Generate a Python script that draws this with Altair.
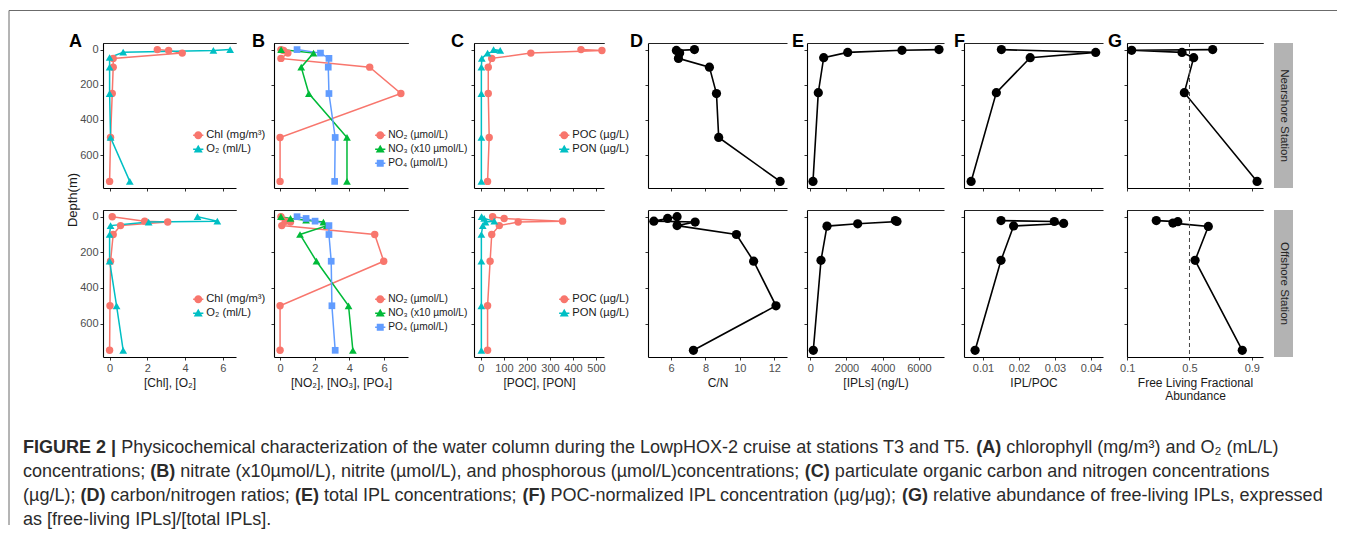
import altair as alt
import pandas as pd

FONT = "Liberation Sans"

# ---------------- data ----------------
near_depth = [0, 5, 20, 50, 100, 250, 500, 750]
off_depth = [0, 25, 30, 50, 100, 250, 500, 750]

# (A) chlorophyll and O2
chl_near = [2.53, 3.13, 3.85, 0.19, 0.19, 0.14, 0.05, 0.0]
o2_near_depth = [0, 5, 15, 45, 100, 250, 500, 750]
o2_near = [6.39, 5.50, 0.72, 0.0, 0.0, 0.0, 0.05, 1.07]
chl_off = [0.14, 1.86, 3.08, 0.58, 0.19, 0.05, 0.02, 0.0]
o2_off = [4.66, 5.71, 2.07, 0.05, 0.0, 0.0, 0.37, 0.72]

# (B) nutrients
no2_near = [0.05, 0.2, 0.45, 0.05, 5.17, 6.97, 0.0, 0.0]
no3_near_depth = [0, 20, 100, 250, 500, 750]
no3_near = [0.06, 1.93, 1.22, 1.66, 3.86, 3.86]
po4_near_depth = [0, 20, 50, 100, 250, 500, 750]
po4_near = [0.98, 2.33, 2.82, 2.78, 2.82, 3.18, 3.15]
no2_off = [0.05, 0.3, 0.6, 0.1, 5.46, 5.98, 0.0, 0.0]
no3_off_depth = [0, 10, 20, 30, 50, 100, 250, 500, 750]
no3_off = [0.05, 0.6, 1.5, 2.5, 2.7, 1.15, 2.1, 3.95, 4.2]
po4_off_depth = [0, 10, 25, 50, 100, 250, 500, 750]
po4_off = [0.98, 1.5, 2.02, 2.82, 2.82, 2.95, 2.99, 3.18]

# (C) POC / PON
poc_near = [435, 526, 217, 47, 32, 32, 36, 29]
pon_near = [55, 84, 29, 4, 2, 2, 2, 2]
poc_off_depth = [0, 10, 25, 30, 50, 100, 250, 500, 750]
poc_off = [51, 101, 355, 162, 80, 47, 40, 29, 29]
pon_off = [3, 14, 58, 20, 8, 2, 2, 2, 2]

# (D) C/N
cn_near = [7.36, 6.31, 6.5, 6.43, 8.23, 8.64, 8.77, 12.34]
cn_off_depth = [0, 10, 25, 30, 50, 100, 250, 500, 750]
cn_off = [6.35, 5.8, 5.0, 7.4, 6.35, 9.8, 10.8, 12.1, 7.3]

# (E) IPLs
ipl_near_depth = [0, 4, 16, 46, 245, 750]
ipl_near = [7110, 5066, 2066, 740, 442, 149]
ipl_off_depth = [22, 27, 40, 53, 245, 750]
ipl_off = [4700, 4790, 2618, 923, 591, 166]

# (F) IPL/POC
iplpoc_near_depth = [0, 16, 46, 245, 750]
iplpoc_near = [0.0151, 0.0413, 0.0231, 0.0137, 0.0067]
iplpoc_off_depth = [22, 27, 38, 52, 245, 750]
iplpoc_off = [0.0150, 0.0298, 0.0324, 0.0185, 0.0150, 0.0078]

# (G) free-living fraction
fl_near_depth = [0, 4, 16, 46, 245, 750]
fl_near = [0.649, 0.129, 0.452, 0.527, 0.467, 0.934]
fl_off_depth = [22, 28, 36, 55, 245, 750]
fl_off = [0.287, 0.425, 0.394, 0.621, 0.536, 0.839]
g_reference = [0.5]

# ---------------- labels / ticks ----------------
depth_ticks = [0, 200, 400, 600]
a_ticks = [0, 2, 4, 6]
b_ticks = [0, 2, 4, 6]
c_ticks = [0, 100, 200, 300, 400, 500]
d_ticks = [6, 8, 10, 12]
e_ticks = [0, 2000, 4000, 6000]
f_ticks = [0.01, 0.02, 0.03, 0.04]
g_ticks = [0.1, 0.5, 0.9]

a_names = ["Chl (mg/m³)", "O₂ (ml/L)"]
b_names = ["NO₂ (µmol/L)", "NO₃ (x10 µmol/L)", "PO₄ (µmol/L)"]
c_names = ["POC (µg/L)", "PON (µg/L)"]
station_labels = ["Nearshore Station", "Offshore Station"]
depth_title = ["Depth(m)"]

caption_lines = [
    [("FIGURE 2 |", True),
     (" Physicochemical characterization of the water column during the LowpHOX-2 cruise at stations T3 and T5. ", False),
     ("(A)", True), (" chlorophyll (mg/m³) and O₂ (mL/L)", False)],
    [("concentrations; ", False), ("(B)", True),
     (" nitrate (x10µmol/L), nitrite (µmol/L), and phosphorous (µmol/L)concentrations; ", False),
     ("(C)", True), (" particulate organic carbon and nitrogen concentrations", False)],
    [("(µg/L); ", False), ("(D)", True), (" carbon/nitrogen ratios; ", False), ("(E)", True),
     (" total IPL concentrations; ", False), ("(F)", True),
     (" POC-normalized IPL concentration (µg/µg); ", False), ("(G)", True),
     (" relative abundance of free-living IPLs, expressed", False)],
    [("as [free-living IPLs]/[total IPLs].", False)],
]

# ---------------- layout / style ----------------
RED, CYAN, GREEN, BLUE = "#F8766D", "#00BFC4", "#00BA38", "#619CFF"
ROW_H = [145, 147]
Y_DOMAIN = [-37.5, 787.5]
STRIP_FILL = "#b3b3b3"
NO_VIEW = alt.ViewBackground(stroke="transparent", strokeWidth=0)

PANELS = {
    "A": dict(w=133, xdom=[-0.35, 6.7], ticks=a_ticks, fmt="d", title="[Chl], [O₂]", dx=-34, gap=38),
    "B": dict(w=134, xdom=[-0.35, 7.38], ticks=b_ticks, fmt="d", title="[NO₂], [NO₃], [PO₄]", dx=-22, gap=66),
    "C": dict(w=130, xdom=[-30, 535], ticks=c_ticks, fmt="d", title="[POC], [PON]", dx=-23, gap=44),
    "D": dict(w=139, xdom=[4.66, 12.74], ticks=d_ticks, fmt="d", title="C/N", dx=-18, gap=20),
    "E": dict(w=137, xdom=[-182, 7387], ticks=e_ticks, fmt="d", title="[IPLs] (ng/L)", dx=-15, gap=20),
    "F": dict(w=139, xdom=[0.00472, 0.04333], ticks=f_ticks, fmt=".2f", title="IPL/POC", dx=-10, gap=24),
    "G": dict(w=136, xdom=[0.099, 0.972], ticks=g_ticks, fmt=".1f",
              title=["Free Living Fractional", "Abundance"], dx=-19, gap=11),
}

LEG_LINE = "M-0.66,-0.09L0.66,-0.09L0.66,0.09L-0.66,0.09Z "
LEG_PATHS = {
    "circle": LEG_LINE + "M-0.52,0A0.52,0.52 0 1 1 0.52,0A0.52,0.52 0 1 1 -0.52,0Z",
    "triangle-up": LEG_LINE + "M0,-0.58L0.58,0.42L-0.58,0.42Z",
    "square": LEG_LINE + "M-0.45,-0.45L0.45,-0.45L0.45,0.45L-0.45,0.45Z",
}

DATA = {
    ("A", 0): (a_names, [near_depth, o2_near_depth], [chl_near, o2_near]),
    ("A", 1): (a_names, [off_depth, off_depth], [chl_off, o2_off]),
    ("B", 0): (b_names, [near_depth, no3_near_depth, po4_near_depth], [no2_near, no3_near, po4_near]),
    ("B", 1): (b_names, [off_depth, no3_off_depth, po4_off_depth], [no2_off, no3_off, po4_off]),
    ("C", 0): (c_names, [near_depth, near_depth], [poc_near, pon_near]),
    ("C", 1): (c_names, [poc_off_depth, poc_off_depth], [poc_off, pon_off]),
    ("D", 0): (["C/N"], [near_depth], [cn_near]),
    ("D", 1): (["C/N"], [cn_off_depth], [cn_off]),
    ("E", 0): (["IPL"], [ipl_near_depth], [ipl_near]),
    ("E", 1): (["IPL"], [ipl_off_depth], [ipl_off]),
    ("F", 0): (["IPL/POC"], [iplpoc_near_depth], [iplpoc_near]),
    ("F", 1): (["IPL/POC"], [iplpoc_off_depth], [iplpoc_off]),
    ("G", 0): (["FL"], [fl_near_depth], [fl_near]),
    ("G", 1): (["FL"], [fl_off_depth], [fl_off]),
}
STYLE = {
    "A": dict(colors=[RED, CYAN], shapes=["circle", "triangle-up"], legx=95, legfs=11.2),
    "B": dict(colors=[RED, GREEN, BLUE], shapes=["circle", "triangle-up", "square"], legx=106, legfs=10.2),
    "C": dict(colors=[RED, CYAN], shapes=["circle", "triangle-up"], legx=90, legfs=11.2),
}
LEG_Y = [92, 89]
SHAPE_SIZE = {"circle": 55, "triangle-up": 60, "square": 45}


def make_df(names, depth_lists, value_lists):
    rows = []
    for n, ds, vs in zip(names, depth_lists, value_lists):
        for d, v in zip(ds, vs):
            rows.append({"series": n, "depth": d, "value": v})
    return pd.DataFrame(rows)


AX = dict(domainColor="#000000", domainWidth=1.1, tickColor="#333333", tickWidth=1, tickSize=3,
          labelFont=FONT, labelFontSize=11, labelColor="#4d4d4d", labelPadding=2,
          titleFont=FONT, titleFontSize=12, titleFontWeight="normal", titleColor="#1a1a1a",
          grid=False, labelOverlap=False, labelFlush=False)


def panel(key, row):
    p = PANELS[key]
    names, dls, vls = DATA[(key, row)]
    df = make_df(names, dls, vls)
    base = alt.Chart(df)
    xs = alt.Scale(domain=p["xdom"], nice=False, zero=False)
    ys = alt.Scale(domain=Y_DOMAIN, reverse=True, nice=False, zero=False)
    xb = alt.Axis(orient="bottom", values=p["ticks"], format=p["fmt"], labels=(row == 1),
                  title=(p["title"] if row == 1 else None), titlePadding=4, titleLineHeight=13, **AX)
    xt = alt.Axis(orient="top", labels=False, ticks=False, title=None, domainColor="#222222",
                  domainWidth=1.2, grid=False)
    ya = alt.Axis(orient="left", values=depth_ticks, format="d", labels=(key == "A"), title=None, **AX)
    x_b = alt.X("value:Q", scale=xs, axis=xb)
    x_t = alt.X("value:Q", scale=xs, axis=xt)
    y_l = alt.Y("depth:Q", scale=ys, axis=ya)

    layers = []
    if key in STYLE:
        st = STYLE[key]
        col = alt.Color("series:N", scale=alt.Scale(domain=names, range=st["colors"]), legend=None)
        layers.append(base.mark_line(strokeWidth=1.5).encode(
            x=x_b, y=y_l, color=col, order=alt.Order("depth:Q")))
        for n, c, s in zip(names, st["colors"], st["shapes"]):
            layers.append(base.transform_filter(alt.datum.series == n).mark_point(
                filled=True, opacity=1, shape=s, size=SHAPE_SIZE[s], color=c).encode(x=x_t, y=y_l))
        leg = alt.Legend(orient="none", legendX=st["legx"] - 7.75, legendY=LEG_Y[row] - 7.75,
                         title=None, labelFont=FONT, labelFontSize=st["legfs"], labelColor="#1a1a1a",
                         symbolSize=240, symbolOpacity=1, symbolStrokeWidth=0, rowPadding=0,
                         padding=0, labelOffset=0, labelLimit=300)
        layers.append(base.transform_filter("false").mark_point(filled=True, opacity=1).encode(
            color=alt.Color("series:N", scale=alt.Scale(domain=names, range=st["colors"]), legend=leg),
            shape=alt.Shape("series:N", scale=alt.Scale(domain=names,
                                                        range=[LEG_PATHS[s] for s in st["shapes"]]),
                            legend=leg)))
    else:
        layers.append(base.mark_line(strokeWidth=1.6, color="black").encode(
            x=x_b, y=y_l, order=alt.Order("depth:Q")))
        layers.append(base.mark_point(filled=True, opacity=1, size=85, color="black").encode(
            x=x_t, y=y_l))
        if key == "G":
            layers.append(alt.Chart(pd.DataFrame({"ref": g_reference})).mark_rule(
                strokeDash=[4, 3], color="#444444", strokeWidth=1).encode(
                x=alt.X("ref:Q", scale=xs, axis=xt)))

    if key == "A" and row == 0:
        # one y title shared by both rows
        layers.append(alt.Chart(pd.DataFrame({"t": depth_title})).mark_text(
            angle=270, font=FONT, fontSize=13, color="#1a1a1a", align="center", baseline="middle"
        ).encode(text="t:N", x=alt.value(-30), y=alt.value(157)))

    ch = alt.layer(*layers)
    if key in STYLE:
        ch = ch.resolve_scale(color="independent", shape="independent")
    props = dict(width=p["w"], height=ROW_H[row], view=NO_VIEW)
    if row == 0:
        props["title"] = alt.TitleParams(text=key, anchor="start", frame="group", dx=p["dx"], dy=22,
                                         offset=0, fontSize=18, fontWeight="bold", font=FONT,
                                         color="black", baseline="alphabetic")
    return ch.properties(**props)


def spacer(w, h):
    return alt.Chart(pd.DataFrame({"z": [0]}), view=NO_VIEW).mark_point(opacity=0).properties(
        width=w, height=h)


def strip(label, h):
    return alt.Chart(pd.DataFrame({"lab": [label]}),
                     view=alt.ViewBackground(fill=STRIP_FILL, stroke="transparent", strokeWidth=0)).mark_text(
        angle=90, font=FONT, fontSize=11.5, color="#262626", align="center", baseline="middle"
    ).encode(y=alt.Y("lab:N", axis=None), text="lab:N", x=alt.value(9.5)).properties(width=19, height=h)


# ---------------- caption (Arial/Liberation metrics) ----------------
REG_W = [278, 278, 355, 556, 556, 889, 667, 191, 333, 333, 389, 584, 278, 333, 278, 278] + [556] * 10 + \
    [278, 278, 584, 584, 584, 556, 1015,
     667, 667, 722, 722, 667, 611, 778, 722, 278, 500, 667, 556, 833, 722, 778, 667, 778, 722, 667, 611,
     722, 667, 944, 667, 667, 611,
     278, 278, 278, 469, 556, 333,
     556, 556, 500, 556, 556, 278, 556, 556, 222, 222, 500, 222, 833, 556, 556, 556, 556, 333, 500, 278,
     556, 500, 722, 500, 500, 500,
     334, 260, 334, 584]
BOLD_W = [278, 333, 474, 556, 556, 889, 722, 238, 333, 333, 389, 584, 278, 333, 278, 278] + [556] * 10 + \
    [333, 333, 584, 584, 584, 611, 975,
     722, 722, 722, 722, 667, 611, 778, 722, 278, 556, 722, 611, 833, 722, 778, 667, 778, 722, 667, 611,
     722, 667, 944, 667, 667, 611,
     333, 278, 333, 584, 556, 333,
     556, 611, 556, 611, 556, 333, 611, 611, 278, 278, 556, 278, 889, 611, 611, 611, 611, 389, 556, 333,
     611, 556, 778, 556, 556, 500,
     389, 280, 389, 584]


def units(s, bold):
    tbl = BOLD_W if bold else REG_W
    u = 0
    for ch in s:
        o = ord(ch)
        if 32 <= o <= 126:
            u += tbl[o - 32]
        elif ch == "µ":
            u += 576
        else:
            u += 333
    return u


CAP_W, CAP_H = 133, 140
CAP_LEFT, CAP_TOP, CAP_LH, CAP_W3 = -80, 74, 24, 1300
fs = CAP_W3 / (sum(units(t, b) for t, b in caption_lines[2]) / 1000.0)
cap_rows = []
for li, segs in enumerate(caption_lines):
    x = CAP_LEFT
    for txt, bold in segs:
        core = txt.strip(" ")
        lead = len(txt) - len(txt.lstrip(" "))
        trail = len(txt) - lead - len(core)
        x += lead * 278 * fs / 1000
        cap_rows.append({"t": core, "x": x, "y": CAP_TOP + li * CAP_LH, "b": int(bold)})
        x += (units(core, bold) + trail * 278) * fs / 1000
cap_df = pd.DataFrame(cap_rows)

cx = alt.X("x:Q", scale=alt.Scale(domain=[0, CAP_W], range=[0, CAP_W], nice=False, zero=False), axis=None)
cy = alt.Y("y:Q", scale=alt.Scale(domain=[0, CAP_H], range=[0, CAP_H], nice=False, zero=False), axis=None)
cap_base = alt.Chart(cap_df)
cap_reg = cap_base.transform_filter("datum.b == 0").mark_text(
    align="left", baseline="alphabetic", font=FONT, fontSize=fs, color="#2b2b2b").encode(
    x=cx, y=cy, text="t:N")
cap_bold = cap_base.transform_filter("datum.b == 1").mark_text(
    align="left", baseline="alphabetic", font=FONT, fontSize=fs, fontWeight="bold", color="#2b2b2b").encode(
    x=cx, y=cy, text="t:N")
# page frame (decoration): top and left border lines, offsets from this cell's origin
one = pd.DataFrame({"k": [0]})
frame_top = alt.Chart(one).mark_rule(color="#6b6b6b", strokeWidth=1).encode(
    x=alt.value(-94), x2=alt.value(1234), y=alt.value(-368.5))
frame_left = alt.Chart(one).mark_rule(color="#6b6b6b", strokeWidth=1).encode(
    x=alt.value(-94), y=alt.value(-368.5), y2=alt.value(146))
caption_cell = alt.layer(frame_top, frame_left, cap_reg, cap_bold).properties(
    width=CAP_W, height=CAP_H, view=NO_VIEW)

# ---------------- assemble ----------------
cells = []
for row in (0, 1):
    h = ROW_H[row]
    for key in "ABCDEFG":
        cells.append(panel(key, row))
        cells.append(spacer(PANELS[key]["gap"], h))
    cells.append(strip(station_labels[row], h))
cells.append(caption_cell)

chart = alt.concat(*cells, columns=15, spacing={"row": 22, "column": 0}, bounds="flush").properties(
    padding={"left": 0, "top": 2, "right": 0, "bottom": 0}
).configure_view(stroke="transparent", strokeWidth=0).configure(font=FONT)

chart.save("out.html", embed_options={"renderer": "svg", "actions": False})
